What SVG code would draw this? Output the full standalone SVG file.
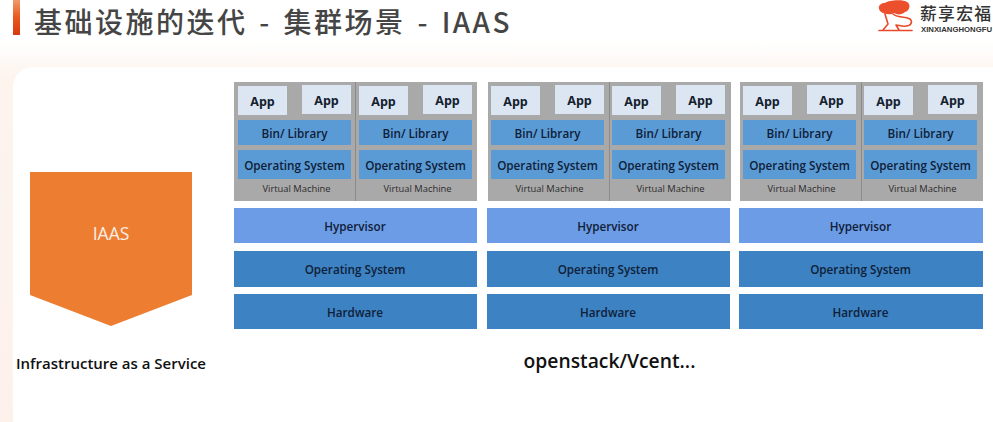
<svg xmlns="http://www.w3.org/2000/svg" width="993" height="422" viewBox="0 0 993 422">
<defs>
<linearGradient id="bg" x1="0" y1="0" x2="0" y2="1"><stop offset="0" stop-color="#ffffff"/><stop offset="0.1" stop-color="#ffffff"/><stop offset="0.18" stop-color="#fdf4ee"/><stop offset="1" stop-color="#fdf1ec"/></linearGradient>
<linearGradient id="bar" x1="0" y1="0" x2="0" y2="1"><stop offset="0" stop-color="#f09a6a"/><stop offset="0.5" stop-color="#e8581f"/><stop offset="1" stop-color="#d8380f"/></linearGradient>
</defs>
<style>
text{font-family:"Open Sans","Noto Sans","Noto Sans CJK SC",sans-serif;text-anchor:middle}
.vm{fill:#a9a9a9}
.div{stroke:#8a8a8a;stroke-width:1;fill:none}
.app{fill:#dbe6f2}
.mid{fill:#5b9bd5}
.hyp{fill:#6d9ce6}
.low{fill:#3d82c2}
.t{font-size:11.7px;font-weight:600;fill:#0f2038}
.a{font-size:12.5px;font-weight:700;fill:#14202e}
.v{font-size:9.4px;fill:#2c2c2c}
.logo-line{fill:none;stroke:#e9492a;stroke-width:1.6;stroke-linecap:round;stroke-linejoin:round}
</style>
<rect width="993" height="422" fill="url(#bg)"/>
<rect x="13" y="67" width="1000" height="380" rx="20" fill="#ffffff"/>
<g id="title">
<rect x="13" y="0" width="7" height="35" fill="url(#bar)"/>
<text x="34" y="32.700" style="text-anchor:start;font-family:'Noto Sans CJK SC','Noto Sans',sans-serif;font-weight:500;letter-spacing:2.500px;word-spacing:3px" font-size="28" fill="#454545">基础设施的迭代 - 集群场景 - IAAS</text>
</g>
<g id="logo">
<path d="M880 11C877 7 880 3 885 3C887 0 904 -1 907 2C911 4 910 11 905 12C902 15 897 15 894 13C891 15 884 15 880 11Z" fill="#ec4f2b"/>
<path class="logo-line" d="M885 14L888 24L883 30M893 14C897 18 905 16 910 19C913 22 911 26 906 26C902 27 899 25 896 25L899 30"/>
<path class="logo-line" d="M879 30.500H912"/>
<text x="920" y="19.700" style="text-anchor:start;font-family:'Noto Sans CJK SC',sans-serif;font-weight:500;letter-spacing:1.300px" font-size="16.800" fill="#333333">薪享宏福</text>
<text x="921" y="32" style="text-anchor:start;font-family:'Liberation Sans',sans-serif" font-size="8" font-weight="700" fill="#333333" textLength="71" lengthAdjust="spacingAndGlyphs">XINXIANGHONGFU</text>
</g>
<g id="iaas">
<path d="M30 172H192V295L111 326L30 295Z" fill="#ed7d31"/>
<text x="111" y="240" font-size="17.5" fill="#fbeee4">IAAS</text>
</g>
<text id="iaas-caption" x="111" y="369" font-size="15" font-weight="600" fill="#111111">Infrastructure as a Service</text>
<g id="stack-1">
<rect class="vm" x="234" y="82" width="243" height="119"/>
<path class="div" d="M355.500 82V201"/>
<rect class="app" x="238" y="86" width="49" height="29"/><text class="a" x="262.500" y="106">App</text>
<rect class="app" x="302" y="85" width="49" height="29"/><text class="a" x="326.500" y="105">App</text>
<rect class="app" x="359" y="86" width="49" height="29"/><text class="a" x="383.500" y="106">App</text>
<rect class="app" x="423" y="85" width="49" height="29"/><text class="a" x="447.500" y="105">App</text>
<rect class="mid" x="238" y="120" width="113" height="25"/><text class="t" x="294.500" y="137.500">Bin/ Library</text>
<rect class="mid" x="359" y="120" width="113" height="25"/><text class="t" x="415.500" y="137.500">Bin/ Library</text>
<rect class="mid" x="238" y="150" width="113" height="29"/><text class="t" x="294.500" y="170">Operating System</text>
<rect class="mid" x="359" y="150" width="113" height="29"/><text class="t" x="415.500" y="170">Operating System</text>
<text class="v" x="296.500" y="192">Virtual Machine</text>
<text class="v" x="417.500" y="192">Virtual Machine</text>
<rect class="hyp" x="234" y="208" width="243" height="35"/><text class="t" x="355" y="230.500">Hypervisor</text>
<rect class="low" x="234" y="251" width="243" height="36"/><text class="t" x="355" y="274">Operating System</text>
<rect class="low" x="234" y="294" width="243" height="35"/><text class="t" x="355" y="316.500">Hardware</text>
</g>
<g id="stack-2">
<rect class="vm" x="488" y="82" width="243" height="119"/>
<path class="div" d="M609.500 82V201"/>
<rect class="app" x="491" y="86" width="49" height="29"/><text class="a" x="515.500" y="106">App</text>
<rect class="app" x="555" y="85" width="49" height="29"/><text class="a" x="579.500" y="105">App</text>
<rect class="app" x="612" y="86" width="49" height="29"/><text class="a" x="636.500" y="106">App</text>
<rect class="app" x="676" y="85" width="49" height="29"/><text class="a" x="700.500" y="105">App</text>
<rect class="mid" x="491" y="120" width="113" height="25"/><text class="t" x="547.500" y="137.500">Bin/ Library</text>
<rect class="mid" x="612" y="120" width="113" height="25"/><text class="t" x="668.500" y="137.500">Bin/ Library</text>
<rect class="mid" x="491" y="150" width="113" height="29"/><text class="t" x="547.500" y="170">Operating System</text>
<rect class="mid" x="612" y="150" width="113" height="29"/><text class="t" x="668.500" y="170">Operating System</text>
<text class="v" x="549.500" y="192">Virtual Machine</text>
<text class="v" x="670.500" y="192">Virtual Machine</text>
<rect class="hyp" x="487" y="208" width="243" height="35"/><text class="t" x="608" y="230.500">Hypervisor</text>
<rect class="low" x="487" y="251" width="243" height="36"/><text class="t" x="608" y="274">Operating System</text>
<rect class="low" x="487" y="294" width="243" height="35"/><text class="t" x="608" y="316.500">Hardware</text>
</g>
<g id="stack-3">
<rect class="vm" x="740" y="82" width="243" height="119"/>
<path class="div" d="M861.500 82V201"/>
<rect class="app" x="743" y="86" width="49" height="29"/><text class="a" x="767.500" y="106">App</text>
<rect class="app" x="807" y="85" width="49" height="29"/><text class="a" x="831.500" y="105">App</text>
<rect class="app" x="864" y="86" width="49" height="29"/><text class="a" x="888.500" y="106">App</text>
<rect class="app" x="928" y="85" width="49" height="29"/><text class="a" x="952.500" y="105">App</text>
<rect class="mid" x="743" y="120" width="113" height="25"/><text class="t" x="799.500" y="137.500">Bin/ Library</text>
<rect class="mid" x="864" y="120" width="113" height="25"/><text class="t" x="920.500" y="137.500">Bin/ Library</text>
<rect class="mid" x="743" y="150" width="113" height="29"/><text class="t" x="799.500" y="170">Operating System</text>
<rect class="mid" x="864" y="150" width="113" height="29"/><text class="t" x="920.500" y="170">Operating System</text>
<text class="v" x="801.500" y="192">Virtual Machine</text>
<text class="v" x="922.500" y="192">Virtual Machine</text>
<rect class="hyp" x="739" y="208" width="244" height="35"/><text class="t" x="860.500" y="230.500">Hypervisor</text>
<rect class="low" x="739" y="251" width="244" height="36"/><text class="t" x="860.500" y="274">Operating System</text>
<rect class="low" x="739" y="294" width="244" height="35"/><text class="t" x="860.500" y="316.500">Hardware</text>
</g>
<text id="stack-caption" x="609.500" y="368" font-size="19.3" font-weight="600" fill="#111111">openstack/Vcent...</text>
<g id="connectors"/>
</svg>
